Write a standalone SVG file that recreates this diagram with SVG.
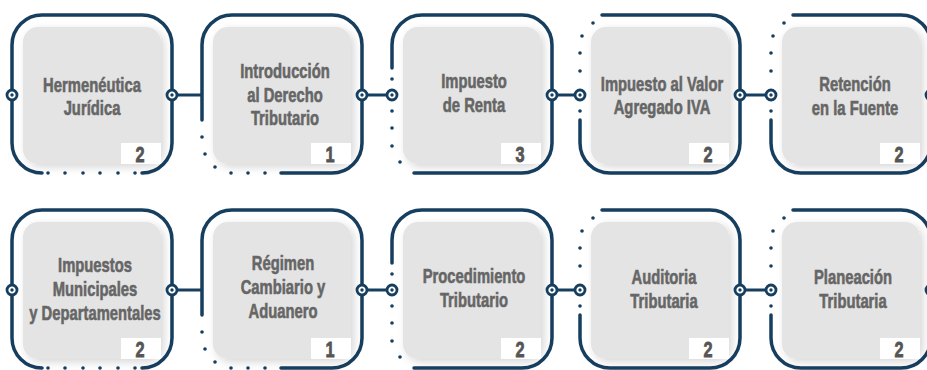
<svg xmlns="http://www.w3.org/2000/svg" width="927" height="370" viewBox="0 0 927 370">
<defs>
<style>
.frame{fill:none;stroke:#163e5f;stroke-width:3.5;stroke-linecap:round}
.dot{fill:#163e5f}
.conn{stroke:#163e5f;stroke-width:3}
.ring{fill:#fff;stroke:#163e5f;stroke-width:2.8}
.card{fill:#e4e4e4;filter:url(#sh)}
.numbox{fill:#fff}
.lbl{font-family:"Liberation Sans",Arial,sans-serif;font-weight:bold;font-size:20px;fill:#666;stroke:#666;stroke-width:0.6;text-anchor:middle}
.num{font-family:"Liberation Sans",Arial,sans-serif;font-weight:bold;font-size:22px;fill:#555;stroke:#555;stroke-width:0.8;text-anchor:middle}
</style>
<filter id="sh" x="-10%" y="-10%" width="130%" height="130%">
<feDropShadow dx="3" dy="3" stdDeviation="4" flood-color="#000" flood-opacity="0.16"/>
</filter>
<g id="ringm"><circle r="5" class="ring"/><circle r="1.7" class="dot"/></g>
</defs>
<rect width="927" height="370" fill="#fff"/>

<g id="connectors">
<line class="conn" x1="172" y1="95" x2="202" y2="95"/>
<line class="conn" x1="362" y1="95" x2="392" y2="95"/>
<line class="conn" x1="552" y1="95" x2="580" y2="95"/>
<line class="conn" x1="740" y1="95" x2="771" y2="95"/>
<line class="conn" x1="172" y1="290" x2="202" y2="290"/>
<line class="conn" x1="362" y1="290" x2="392" y2="290"/>
<line class="conn" x1="552" y1="290" x2="580" y2="290"/>
<line class="conn" x1="740" y1="290" x2="771" y2="290"/>
</g>

<!-- Row 1 -->
<g id="n1">
<path class="frame" d="M42,173 A30,30 0 0 1 12,143 L12,45 A30,30 0 0 1 42,15 L142,15 A30,30 0 0 1 172,45 L172,143 A30,30 0 0 1 142,173"/>
<circle class="dot" cx="48" cy="173" r="1.8"/><circle class="dot" cx="65" cy="173" r="1.8"/><circle class="dot" cx="83" cy="173" r="1.8"/><circle class="dot" cx="100" cy="173" r="1.8"/><circle class="dot" cx="118" cy="173" r="1.8"/><circle class="dot" cx="135" cy="173" r="1.8"/>
<rect class="card" x="23" y="27" width="138" height="137" rx="15"/>
<rect class="numbox" x="121" y="143" width="40" height="21"/>
<g transform="translate(92,0) scale(0.74,1)"><text class="lbl" x="0" y="92">Hermenéutica</text><text class="lbl" x="0" y="115">Jurídica</text></g>
<g transform="translate(140,0) scale(0.74,1)"><text class="num" x="0" y="162">2</text></g>
<use href="#ringm" x="12" y="95"/><use href="#ringm" x="172" y="95"/>
</g>

<g id="n2">
<path class="frame" d="M281,173 L332,173 A30,30 0 0 0 362,143 L362,45 A30,30 0 0 0 332,15 L232,15 A30,30 0 0 0 202,45 L202,120"/>
<circle class="dot" cx="202" cy="137" r="1.8"/><circle class="dot" cx="205" cy="154" r="1.8"/><circle class="dot" cx="215" cy="167" r="1.8"/><circle class="dot" cx="231" cy="173" r="1.8"/><circle class="dot" cx="248" cy="173" r="1.8"/><circle class="dot" cx="265" cy="173" r="1.8"/>
<rect class="card" x="213" y="27" width="138" height="137" rx="15"/>
<rect class="numbox" x="311" y="143" width="40" height="21"/>
<g transform="translate(285,0) scale(0.74,1)"><text class="lbl" x="0" y="78">Introducción</text><text class="lbl" x="0" y="102">al Derecho</text><text class="lbl" x="0" y="125">Tributario</text></g>
<g transform="translate(330,0) scale(0.74,1)"><text class="num" x="0" y="162">1</text></g>
<use href="#ringm" x="362" y="95"/>
</g>

<g id="n3">
<path class="frame" d="M414,173 L522,173 A30,30 0 0 0 552,143 L552,45 A30,30 0 0 0 522,15 L422,15 A30,30 0 0 0 392,45 L392,68"/>
<circle class="dot" cx="392" cy="79" r="1.8"/><circle class="dot" cx="392" cy="111" r="1.8"/><circle class="dot" cx="392" cy="128" r="1.8"/><circle class="dot" cx="392" cy="146" r="1.8"/><circle class="dot" cx="400" cy="162" r="1.8"/>
<rect class="card" x="403" y="27" width="138" height="137" rx="15"/>
<rect class="numbox" x="501" y="143" width="40" height="21"/>
<g transform="translate(474,0) scale(0.74,1)"><text class="lbl" x="0" y="88">Impuesto</text><text class="lbl" x="0" y="112">de Renta</text></g>
<g transform="translate(520,0) scale(0.74,1)"><text class="num" x="0" y="162">3</text></g>
<use href="#ringm" x="392" y="95"/><use href="#ringm" x="552" y="95"/>
</g>

<g id="n4">
<path class="frame" d="M580,120 L580,143 A30,30 0 0 0 610,173 L710,173 A30,30 0 0 0 740,143 L740,45 A30,30 0 0 0 710,15 L602,15"/>
<circle class="dot" cx="593" cy="23" r="1.8"/><circle class="dot" cx="582" cy="36" r="1.8"/><circle class="dot" cx="580" cy="53" r="1.8"/><circle class="dot" cx="580" cy="71" r="1.8"/><circle class="dot" cx="580" cy="111" r="1.8"/>
<rect class="card" x="591" y="27" width="138" height="137" rx="15"/>
<rect class="numbox" x="689" y="143" width="40" height="21"/>
<g transform="translate(662,0) scale(0.74,1)"><text class="lbl" x="0" y="91">Impuesto al Valor</text><text class="lbl" x="0" y="114">Agregado IVA</text></g>
<g transform="translate(708,0) scale(0.74,1)"><text class="num" x="0" y="162">2</text></g>
<use href="#ringm" x="580" y="95"/><use href="#ringm" x="740" y="95"/>
</g>

<g id="n5">
<path class="frame" d="M771,120 L771,143 A30,30 0 0 0 801,173 L901,173 A30,30 0 0 0 931,143 L931,45 A30,30 0 0 0 901,15 L793,15"/>
<circle class="dot" cx="784" cy="23" r="1.8"/><circle class="dot" cx="773" cy="36" r="1.8"/><circle class="dot" cx="771" cy="53" r="1.8"/><circle class="dot" cx="771" cy="71" r="1.8"/><circle class="dot" cx="771" cy="111" r="1.8"/>
<rect class="card" x="782" y="27" width="138" height="137" rx="15"/>
<rect class="numbox" x="880" y="143" width="40" height="21"/>
<g transform="translate(855,0) scale(0.74,1)"><text class="lbl" x="0" y="91">Retención</text><text class="lbl" x="0" y="115">en la Fuente</text></g>
<g transform="translate(899,0) scale(0.74,1)"><text class="num" x="0" y="162">2</text></g>
<use href="#ringm" x="771" y="95"/><use href="#ringm" x="931" y="95"/>
</g>

<!-- Row 2 -->
<g id="n6">
<path class="frame" d="M42,368 A30,30 0 0 1 12,338 L12,240 A30,30 0 0 1 42,210 L142,210 A30,30 0 0 1 172,240 L172,338 A30,30 0 0 1 142,368"/>
<circle class="dot" cx="48" cy="368" r="1.8"/><circle class="dot" cx="65" cy="368" r="1.8"/><circle class="dot" cx="83" cy="368" r="1.8"/><circle class="dot" cx="100" cy="368" r="1.8"/><circle class="dot" cx="118" cy="368" r="1.8"/><circle class="dot" cx="135" cy="368" r="1.8"/>
<rect class="card" x="23" y="222" width="138" height="137" rx="15"/>
<rect class="numbox" x="121" y="338" width="40" height="21"/>
<g transform="translate(95,0) scale(0.74,1)"><text class="lbl" x="0" y="272">Impuestos</text><text class="lbl" x="0" y="296">Municipales</text><text class="lbl" x="0" y="320">y Departamentales</text></g>
<g transform="translate(140,0) scale(0.74,1)"><text class="num" x="0" y="357">2</text></g>
<use href="#ringm" x="12" y="290"/><use href="#ringm" x="172" y="290"/>
</g>

<g id="n7">
<path class="frame" d="M281,368 L332,368 A30,30 0 0 0 362,338 L362,240 A30,30 0 0 0 332,210 L232,210 A30,30 0 0 0 202,240 L202,315"/>
<circle class="dot" cx="202" cy="332" r="1.8"/><circle class="dot" cx="205" cy="349" r="1.8"/><circle class="dot" cx="215" cy="362" r="1.8"/><circle class="dot" cx="231" cy="368" r="1.8"/><circle class="dot" cx="248" cy="368" r="1.8"/><circle class="dot" cx="265" cy="368" r="1.8"/>
<rect class="card" x="213" y="222" width="138" height="137" rx="15"/>
<rect class="numbox" x="311" y="338" width="40" height="21"/>
<g transform="translate(283,0) scale(0.74,1)"><text class="lbl" x="0" y="270">Régimen</text><text class="lbl" x="0" y="294">Cambiario y</text><text class="lbl" x="0" y="318">Aduanero</text></g>
<g transform="translate(330,0) scale(0.74,1)"><text class="num" x="0" y="357">1</text></g>
<use href="#ringm" x="362" y="290"/>
</g>

<g id="n8">
<path class="frame" d="M414,368 L522,368 A30,30 0 0 0 552,338 L552,240 A30,30 0 0 0 522,210 L422,210 A30,30 0 0 0 392,240 L392,263"/>
<circle class="dot" cx="392" cy="274" r="1.8"/><circle class="dot" cx="392" cy="306" r="1.8"/><circle class="dot" cx="392" cy="323" r="1.8"/><circle class="dot" cx="392" cy="341" r="1.8"/><circle class="dot" cx="400" cy="357" r="1.8"/>
<rect class="card" x="403" y="222" width="138" height="137" rx="15"/>
<rect class="numbox" x="501" y="338" width="40" height="21"/>
<g transform="translate(474,0) scale(0.74,1)"><text class="lbl" x="0" y="283">Procedimiento</text><text class="lbl" x="0" y="307">Tributario</text></g>
<g transform="translate(520,0) scale(0.74,1)"><text class="num" x="0" y="357">2</text></g>
<use href="#ringm" x="392" y="290"/><use href="#ringm" x="552" y="290"/>
</g>

<g id="n9">
<path class="frame" d="M580,315 L580,338 A30,30 0 0 0 610,368 L710,368 A30,30 0 0 0 740,338 L740,240 A30,30 0 0 0 710,210 L602,210"/>
<circle class="dot" cx="593" cy="218" r="1.8"/><circle class="dot" cx="582" cy="231" r="1.8"/><circle class="dot" cx="580" cy="248" r="1.8"/><circle class="dot" cx="580" cy="266" r="1.8"/><circle class="dot" cx="580" cy="306" r="1.8"/>
<rect class="card" x="591" y="222" width="138" height="137" rx="15"/>
<rect class="numbox" x="689" y="338" width="40" height="21"/>
<g transform="translate(664,0) scale(0.74,1)"><text class="lbl" x="0" y="284">Auditoria</text><text class="lbl" x="0" y="308">Tributaria</text></g>
<g transform="translate(708,0) scale(0.74,1)"><text class="num" x="0" y="357">2</text></g>
<use href="#ringm" x="580" y="290"/><use href="#ringm" x="740" y="290"/>
</g>

<g id="n10">
<path class="frame" d="M771,315 L771,338 A30,30 0 0 0 801,368 L901,368 A30,30 0 0 0 931,338 L931,240 A30,30 0 0 0 901,210 L793,210"/>
<circle class="dot" cx="784" cy="218" r="1.8"/><circle class="dot" cx="773" cy="231" r="1.8"/><circle class="dot" cx="771" cy="248" r="1.8"/><circle class="dot" cx="771" cy="266" r="1.8"/><circle class="dot" cx="771" cy="306" r="1.8"/>
<rect class="card" x="782" y="222" width="138" height="137" rx="15"/>
<rect class="numbox" x="880" y="338" width="40" height="21"/>
<g transform="translate(853,0) scale(0.74,1)"><text class="lbl" x="0" y="284">Planeación</text><text class="lbl" x="0" y="308">Tributaria</text></g>
<g transform="translate(899,0) scale(0.74,1)"><text class="num" x="0" y="357">2</text></g>
<use href="#ringm" x="771" y="290"/><use href="#ringm" x="931" y="290"/>
</g>
</svg>
